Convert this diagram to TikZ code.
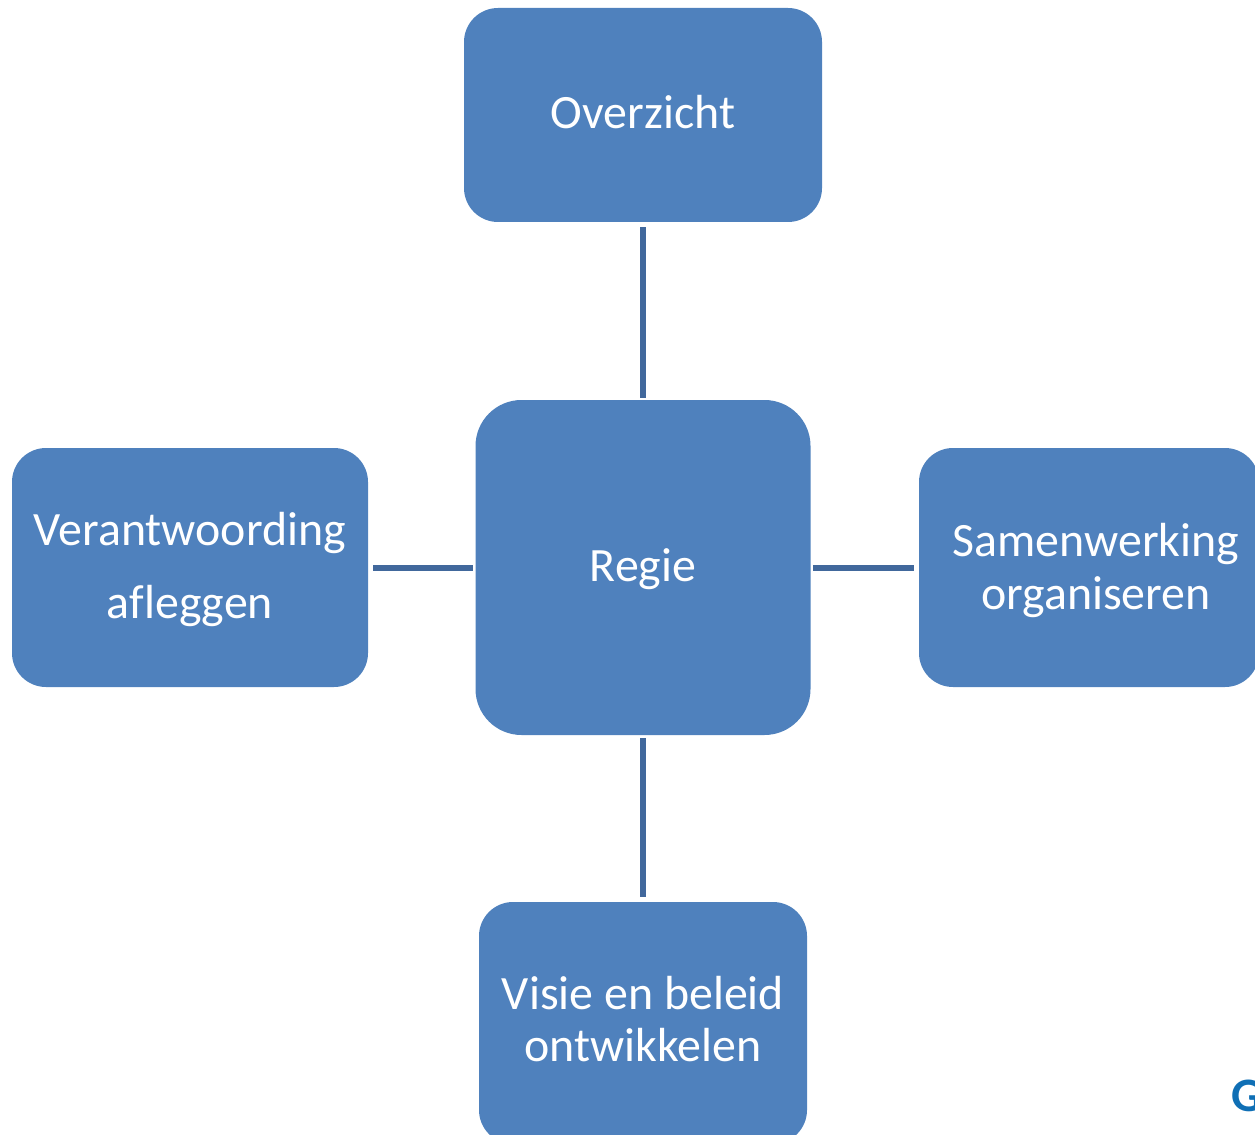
\documentclass[tikz,border=0pt]{standalone}
\usepackage{fontspec}
\setmainfont{Carlito}
\usetikzlibrary{calc}
\definecolor{boxblue}{HTML}{4F81BD}
\definecolor{linkblue}{HTML}{41689C}
\definecolor{logoblue}{HTML}{0F6FB5}
\tikzstyle{smallbox}=[rectangle,rounded corners=34*0.75pt,fill=boxblue,minimum width=356*0.75pt,minimum height=239*0.75pt,inner sep=0pt]
\tikzstyle{boxtext}=[text=white,inner sep=0pt,font=\fontsize{35.9pt}{43pt}\selectfont]
\tikzstyle{link} = [draw=linkblue,line width=4.5pt]
\begin{document}
\begin{tikzpicture}[x=0.75pt,y=-0.75pt]

    \useasboundingbox (0,0) rectangle (1255,1134);
    \clip (0,0) rectangle (1255,1134);

    % boxes
    \node[smallbox,minimum width=358*0.75pt,minimum height=214*0.75pt] (overzicht) at (643,115) {};
    \node[smallbox,rounded corners=46*0.75pt,minimum width=335*0.75pt,minimum height=335*0.75pt] (regie) at (643,567.5) {};
    \node[smallbox] (verantwoording) at (190,567.5) {};
    \node[smallbox,minimum width=340*0.75pt] (samenwerking) at (1089,567.5) {};
    \node[smallbox,minimum width=328*0.75pt,minimum height=242*0.75pt] (visie) at (643,1023) {};

    % labels
    \node[boxtext] (overzichttxt) at (643,112) {Overzicht};
    \node[boxtext] (regietxt) at (643,569) {Regie};
    \node[boxtext] (verantw1) at (190,533) {Verantwoording};
    \node[boxtext] (verantw2) at (190,606) {af\kern0ptleggen};
    \node[boxtext] (samen1) at (1096,544) {Samenwerking};
    \node[boxtext] (samen2) at (1096,597) {organiseren};
    \node[boxtext] (visie1) at (643,993) {Visie en beleid};
    \node[boxtext] (visie2) at (643,1045) {ontwikkelen};

    % connect boxes
    \path[link,shorten <=5*0.75pt,shorten >=2*0.75pt] (overzicht) -- (regie);
    \path[link,shorten <=3*0.75pt,shorten >=5*0.75pt] (regie) -- (visie);
    \path[link,shorten <=5*0.75pt,shorten >=2*0.75pt] (verantwoording) -- (regie);
    \path[link,shorten <=2*0.75pt,shorten >=5*0.75pt] (regie) -- (samenwerking);

    % cut off letter
    \node[text=logoblue,inner sep=0pt,font=\fontsize{36pt}{43pt}\selectfont\bfseries,anchor=west] (logo) at (1231,1096) {G};

\end{tikzpicture}
\end{document}
